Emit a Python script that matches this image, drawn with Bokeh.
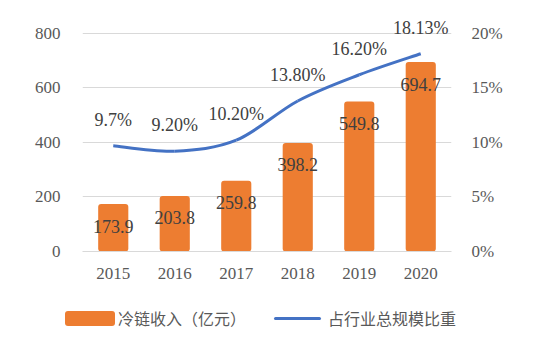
from bokeh.plotting import figure
from bokeh.layouts import column
from bokeh.models import (ColumnDataSource, FactorRange, Range1d, LinearAxis, FixedTicker,
                          NumeralTickFormatter, Div)
from bokeh.core.properties import value
from bokeh.embed import file_html
from bokeh.resources import INLINE

years = ["2015", "2016", "2017", "2018", "2019", "2020"]
revenue = [173.9, 203.8, 259.8, 398.2, 549.8, 694.7]
revenue_labels = ["173.9", "203.8", "259.8", "398.2", "549.8", "694.7"]
share = [0.097, 0.092, 0.102, 0.138, 0.162, 0.1813]
share_labels = ["9.7%", "9.20%", "10.20%", "13.80%", "16.20%", "18.13%"]
left_ticks = [0, 200, 400, 600, 800]
right_ticks = [0, 0.05, 0.10, 0.15, 0.20]
bar_name = "冷链收入（亿元）"
line_name = "占行业总规模比重"

ORANGE = "#ED7D31"
BLUE = "#4472C4"
GREY = "#595959"
DARK = "#404040"
SERIF = "Liberation Serif"
CJK = "Noto Sans CJK SC"

p = figure(frame_width=369, frame_height=240, x_range=FactorRange(*years), y_range=Range1d(0, 880),
           output_backend="svg", toolbar_location=None,
           min_border_left=82, min_border_right=88, min_border_top=11, min_border_bottom=32)
p.outline_line_color = None
p.background_fill_color = "white"
p.border_fill_color = "white"
p.extra_y_ranges = {"pct": Range1d(0, 0.22)}

p.yaxis.ticker = FixedTicker(ticks=left_ticks)
ax = p.yaxis[0]
ax.axis_line_color = None
ax.major_tick_line_color = None
ax.minor_tick_line_color = None
ax.major_label_text_font = SERIF
ax.major_label_text_font_size = "17px"
ax.major_label_text_color = GREY
ax.major_label_standoff = 16

right = LinearAxis(y_range_name="pct", ticker=FixedTicker(ticks=right_ticks),
                   formatter=NumeralTickFormatter(format="0%"))
right.axis_line_color = None
right.major_tick_line_color = None
right.minor_tick_line_color = None
right.major_label_text_font = SERIF
right.major_label_text_font_size = "17px"
right.major_label_text_color = GREY
right.major_label_standoff = 14
p.add_layout(right, "right")

xa = p.xaxis[0]
xa.axis_line_color = "#D9D9D9"
xa.major_tick_line_color = None
xa.minor_tick_line_color = None
xa.major_label_text_font = SERIF
xa.major_label_text_font_size = "17px"
xa.major_label_text_color = GREY
xa.major_label_standoff = 10

p.xgrid.grid_line_color = None
p.ygrid.grid_line_color = "#D9D9D9"
p.ygrid.grid_line_width = 1

src = ColumnDataSource(dict(x=years, top=revenue, lab=revenue_labels))
p.vbar(x="x", top="top", width=0.49, source=src, fill_color=ORANGE,
       line_color=None, border_radius=3)
p.text(x="x", y="top", text="lab", source=src, text_align="center", text_baseline="middle",
       y_offset=22, text_font=value(SERIF), text_font_size="18px", text_color=DARK)

# smoothed line: cubic Bezier segments through the data points (Catmull-Rom control points)
n = len(share)
xs = [i + 0.5 for i in range(n)]
x0, y0, x1, y1, cx0, cy0, cx1, cy1 = [], [], [], [], [], [], [], []
for i in range(n - 1):
    pm = max(i - 1, 0)
    pp = min(i + 2, n - 1)
    x0.append(xs[i]); y0.append(share[i])
    x1.append(xs[i + 1]); y1.append(share[i + 1])
    cx0.append(xs[i] + (xs[i + 1] - xs[pm]) / 6)
    cy0.append(share[i] + (share[i + 1] - share[pm]) / 6)
    cx1.append(xs[i + 1] - (xs[pp] - xs[i]) / 6)
    cy1.append(share[i + 1] - (share[pp] - share[i]) / 6)
bsrc = ColumnDataSource(dict(x0=x0, y0=y0, x1=x1, y1=y1, cx0=cx0, cy0=cy0, cx1=cx1, cy1=cy1))
p.bezier(x0="x0", y0="y0", x1="x1", y1="y1", cx0="cx0", cy0="cy0", cx1="cx1", cy1="cy1",
         source=bsrc, line_color=BLUE, line_width=3, y_range_name="pct")

lsrc = ColumnDataSource(dict(x=years, y=share, lab=share_labels))
p.text(x="x", y="y", text="lab", source=lsrc, y_range_name="pct", text_align="center",
       text_baseline="middle", y_offset=-26, text_font=value(SERIF), text_font_size="18px",
       text_color=DARK)

# legend strip below the plot
legend_html = (
    f'<div style="display:flex;align-items:center;height:60px;padding-left:60px;'
    f"font-family:'{CJK}';font-size:16px;color:{GREY};white-space:nowrap;\">"
    f'<span style="display:inline-block;width:50px;height:15px;background:{ORANGE};'
    f'border-radius:3px;"></span>'
    f'<span style="margin-left:3px;">{bar_name}</span>'
    f'<span style="display:inline-block;width:47px;height:3px;background:{BLUE};'
    f'margin-left:28px;border-radius:2px;"></span>'
    f'<span style="margin-left:7px;">{line_name}</span></div>'
)
lg = Div(text=legend_html, width=539, height=60)

layout = column(p, lg, spacing=0)
open("out.html", "w").write(file_html(layout, INLINE))
